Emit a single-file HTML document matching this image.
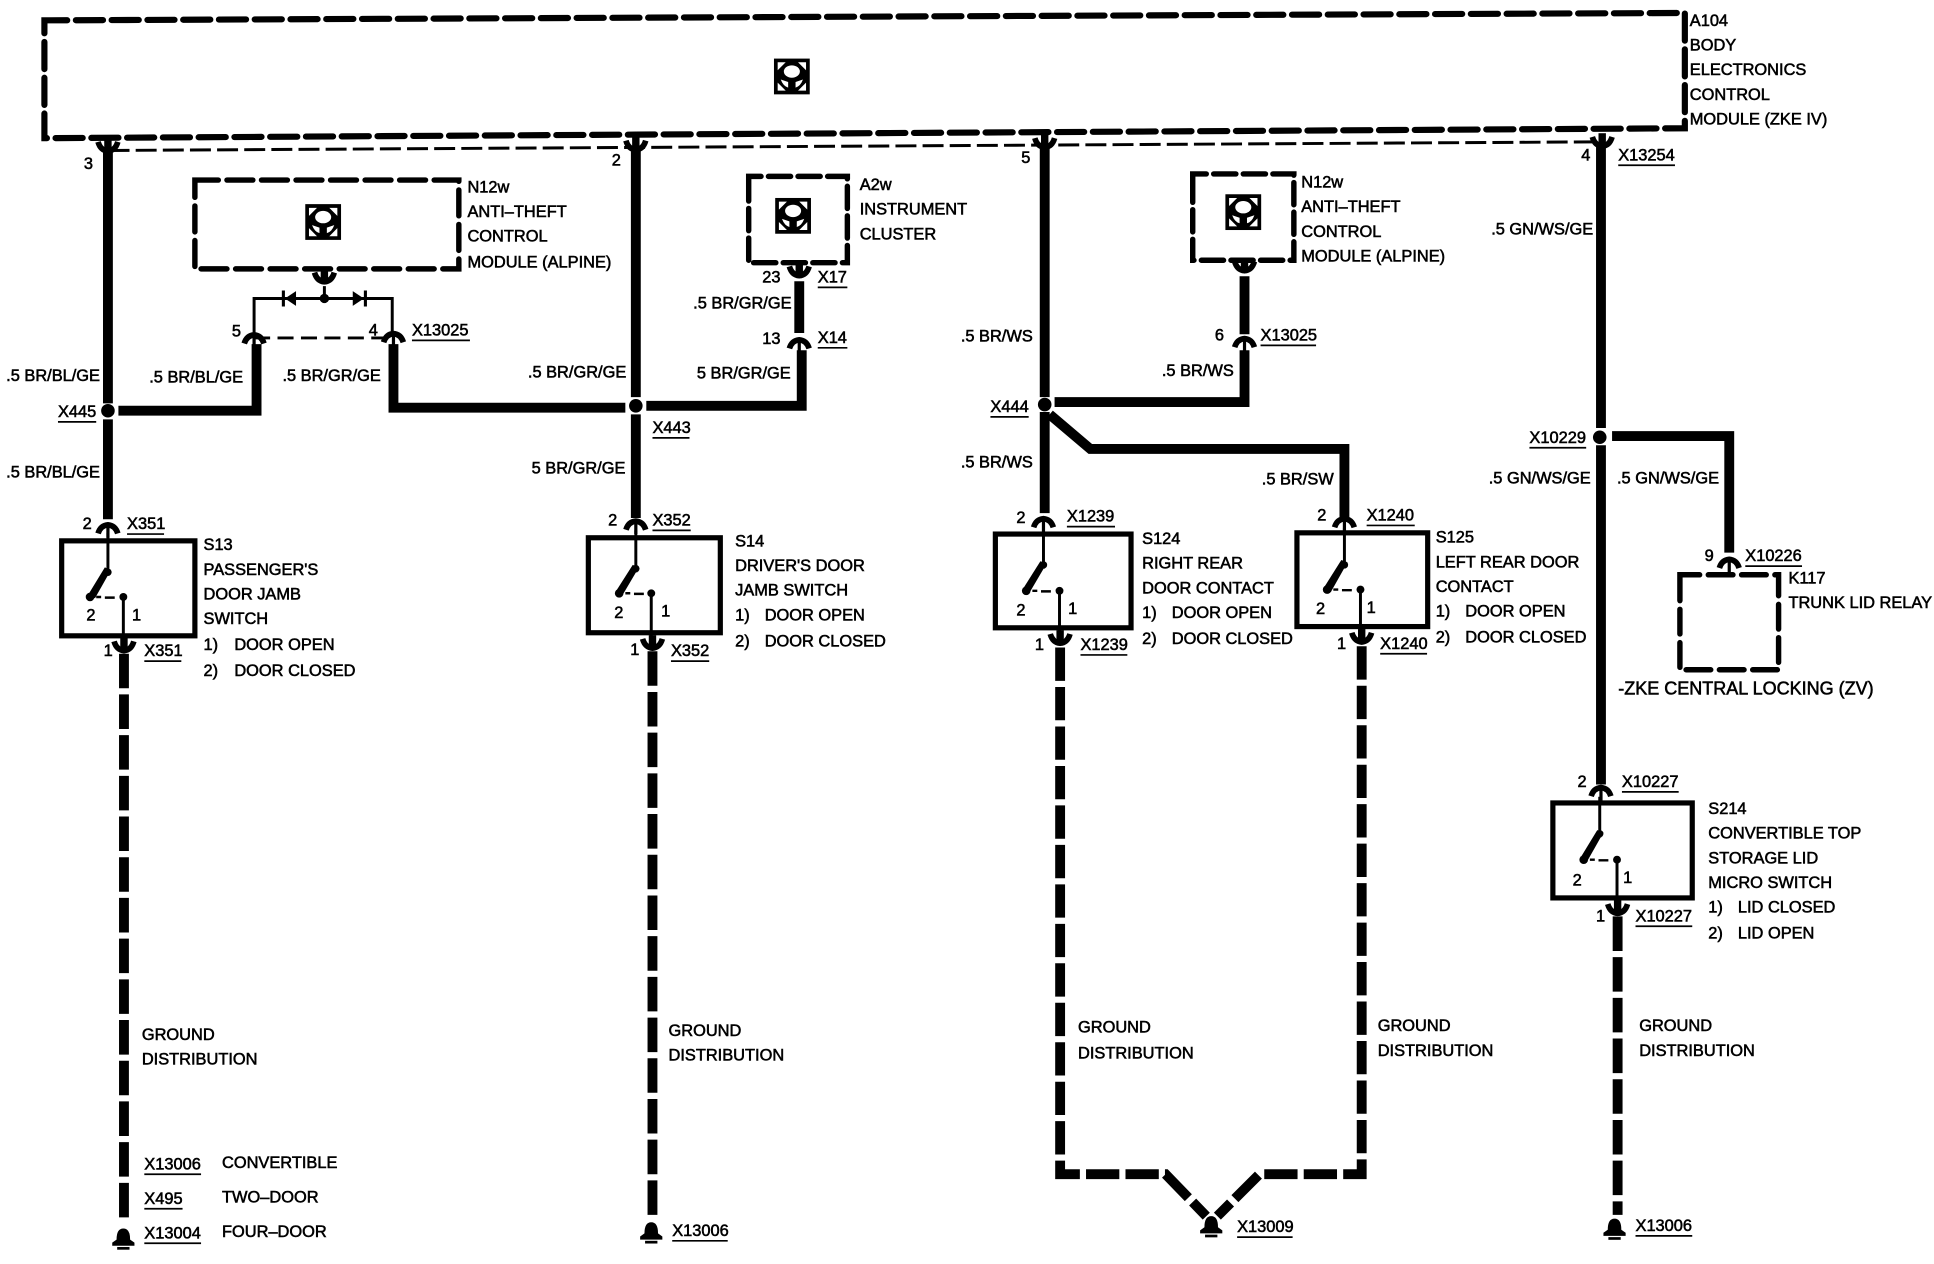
<!DOCTYPE html>
<html><head><meta charset="utf-8"><style>
html,body{margin:0;padding:0;background:#fff}
svg{display:block}
text{font-family:"Liberation Sans",sans-serif;font-size:13.3px;fill:#000;stroke:#000;stroke-width:.45}
.w{fill:none;stroke:#000;stroke-width:8;stroke-linejoin:miter}
.d{fill:none;stroke:#000;stroke-width:8;stroke-dasharray:28 5}
.b{fill:none;stroke:#000;stroke-width:4.4;stroke-dasharray:21 7;stroke-linecap:round}
.t{fill:none;stroke:#000;stroke-width:2.4}
.u{fill:none;stroke:#000;stroke-width:1.4}
.s{fill:none;stroke:#000;stroke-width:4.2}
</style></head><body>
<svg xmlns="http://www.w3.org/2000/svg" width="1934" height="1264" viewBox="0 0 1568 1024.8">
<defs>
<g id="ic"><rect x="-14.500" y="-14.500" width="29" height="29" fill="#000"/>
<path d="M-11.500-11.500h6.500l-6.500 6.500zM11.500-11.500h-6.500l6.500 6.500zM-11.500 11.500h6.500l-6.500-6.500zM11.500 11.500h-6.500l6.500-6.500z" fill="#fff"/>
<ellipse cx="0" cy="-4" rx="6.500" ry="5" fill="#fff"/>
<path d="M-9 2.500L-3 4.500L-3 9Q-7 8-9 2.500zM9 2.500L3 4.500L3 9Q7 8 9 2.500z" fill="#fff"/></g>
<g id="fu"><path d="M-8 4.500 Q-6-2 0-2.500 Q6-2 8 4.500" fill="none" stroke="#000" stroke-width="4.600"/><rect x="-1.300" y="-3" width="2.600" height="11"/></g>
<g id="fd"><path d="M-8-5 Q-6 2 0 2.500 Q6 2 8-5" fill="none" stroke="#000" stroke-width="4.600"/><rect x="-3" y="-8" width="6" height="12"/></g>
<g id="gd"><path d="M-5.500 2 Q-5.500-7 0-7 Q5.500-7 5.500 2 L9 4.500 L9 7 L-9 7 L-9 4.500Z"/><rect x="-5" y="8" width="10" height="2.200"/></g>
</defs>

<!-- A104 -->
<path class="b" d="M36 20 L36 16.500 L40 16.500 L1366 10.500 L1366 104 L40 112 L36 112 L36 20" style="stroke-width:5;stroke-dasharray:22 7"/>
<path class="t" d="M88 122 L1299 115" stroke-dasharray="17 5"/>
<use href="#ic" x="642" y="62"/>

<!-- main wires -->
<path class="w" d="M87.500 122V327M87.500 340V421"/>
<path class="w" d="M515.500 118V322M515.500 336V420"/>
<path class="w" d="M847 118V322M847 334V416"/>
<path class="w" d="M1298 118V347M1298 361V636"/>
<path class="w" d="M96 333H208V279"/>
<path class="w" d="M319 279V330.500H507"/>
<path class="w" d="M524 329H650V284"/>
<path class="w" d="M648 270V228"/>
<path class="w" d="M855 326H1009V284"/>
<path class="w" d="M1009 271V224"/>
<path class="w" d="M851 336 L884 364H1090V420"/>
<path class="w" d="M1307 353.500H1402V448"/>
<circle cx="87.500" cy="333" r="5.500"/><circle cx="515.500" cy="329" r="5.500"/><circle cx="847" cy="328" r="5.500"/><circle cx="1297" cy="354.500" r="5.500"/>

<!-- forks at top -->
<use href="#fd" x="87.500" y="120"/><use href="#fd" x="515.500" y="119"/><use href="#fd" x="847" y="117"/><use href="#fd" x="1299" y="116"/>

<!-- N12w left -->
<path class="b" d="M158 148V146H372V218H158V148"/>
<use href="#ic" x="262" y="180"/>
<use href="#fd" x="263" y="226"/>
<path class="t" d="M263 232V242M206 270V242H318V270"/>
<path d="M240 236V248L231 242ZM231 235.500V248.500H228.500V235.500Z M286 236V248L295 242ZM295 235.500V248.500H297.500V235.500Z"/>
<circle cx="263" cy="242" r="3.800"/>
<path class="t" d="M206 274H318" stroke-dasharray="13 6"/>
<use href="#fu" x="206" y="274"/><use href="#fu" x="319" y="273"/>

<!-- A2w -->
<path class="b" d="M607 151V143H687V213H607V151" style="stroke-dasharray:18 6"/>
<use href="#ic" x="643" y="175"/>
<use href="#fd" x="648" y="221"/>
<use href="#fu" x="648" y="278"/>

<!-- N12w right -->
<path class="b" d="M967 148V141H1049V211H967V148" style="stroke-dasharray:18 6"/>
<use href="#ic" x="1008" y="172"/>
<use href="#fd" x="1009" y="217"/>
<use href="#fu" x="1009" y="277"/>

<!-- Switch S13 -->
<g>
<rect class="s" x="50" y="438.500" width="108" height="77"/>
<use href="#fu" x="87.500" y="428"/>
<path class="t" d="M87.500 432V466"/>
<path d="M85 460L90 462L77 485L71 483Z"/><circle cx="87.500" cy="464" r="3"/><circle cx="73" cy="484" r="3.500"/>
<path d="M78 483h4v2h-4zM85 483.500h8v2h-8z"/>
<circle cx="100" cy="484" r="3.200"/><path class="t" d="M100 484V520"/>
<use href="#fd" x="100.500" y="525"/>
<path class="d" d="M100.500 530V992"/>
</g>

<!-- S14 -->
<g>
<rect class="s" x="477" y="436" width="107" height="77"/>
<use href="#fu" x="515.500" y="425"/>
<path class="t" d="M515.500 430V464"/>
<path d="M513 458L518 460L505 482L499 480Z"/><circle cx="515.500" cy="461" r="3"/><circle cx="502" cy="481" r="3.500"/>
<path d="M507 480h4v2h-4zM514 480.500h8v2h-8z"/>
<circle cx="528" cy="481" r="3.200"/><path class="t" d="M528 481V518"/>
<use href="#fd" x="529" y="523"/>
<path class="d" d="M529 528V986"/>
</g>

<!-- S124 -->
<g>
<rect class="s" x="807" y="433" width="110" height="76"/>
<use href="#fu" x="846" y="423"/>
<path class="t" d="M846 428V461"/>
<path d="M843.500 455L848.500 457L835 480L829 478Z"/><circle cx="846" cy="458" r="3"/><circle cx="832" cy="479" r="3.500"/>
<path d="M837 478h4v2h-4zM844 478.500h8v2h-8z"/>
<circle cx="859" cy="479" r="3.200"/><path class="t" d="M859 479V514"/>
<use href="#fd" x="859.500" y="519"/>
</g>

<!-- S125 -->
<g>
<rect class="s" x="1051.500" y="432" width="106" height="76"/>
<use href="#fu" x="1090" y="423"/>
<path class="t" d="M1090 428V460"/>
<path d="M1087.500 454L1092.500 456L1079 480L1073 477Z"/><circle cx="1090" cy="458" r="3"/><circle cx="1076" cy="478" r="3.500"/>
<path d="M1081 477h4v2h-4zM1088 477.500h8v2h-8z"/>
<circle cx="1103" cy="478" r="3.200"/><path class="t" d="M1103 478V514"/>
<use href="#fd" x="1104" y="518"/>
</g>

<!-- right ground pair -->
<path class="d" d="M859.500 525V952H945L978 986" style="stroke-dasharray:27 5"/>
<path class="d" d="M1104 524V952H1021L987 986" style="stroke-dasharray:27 5"/>
<use href="#gd" x="982" y="993"/>

<!-- K117 -->
<path class="b" d="M1362 470V466H1442V543H1362V470" style="stroke-dasharray:20 7"/>
<use href="#fu" x="1402" y="456"/>

<!-- S214 -->
<g>
<rect class="s" x="1259" y="651" width="113" height="77"/>
<use href="#fu" x="1298" y="641"/>
<path class="t" d="M1297 646V679"/>
<path d="M1295 673L1300 675L1287 698L1281 696Z"/><circle cx="1297" cy="676" r="3"/><circle cx="1284" cy="697" r="3.500"/>
<path d="M1289 696h4v2h-4zM1296 696.500h8v2h-8z"/>
<circle cx="1311" cy="697" r="3.200"/><path class="t" d="M1311 697V733"/>
<use href="#fd" x="1311.500" y="738"/>
<path class="d" d="M1311.500 743V985"/>
</g>

<use href="#gd" x="100" y="1003"/><use href="#gd" x="528" y="998"/><use href="#gd" x="1309" y="995"/>

<!-- TEXT -->
<text x="1370" y="21">A104</text><text x="1370" y="41">BODY</text><text x="1370" y="61">ELECTRONICS</text><text x="1370" y="81">CONTROL</text><text x="1370" y="101">MODULE (ZKE IV)</text>
<text x="68" y="137">3</text><text x="496" y="134">2</text><text x="828" y="132">5</text><text x="1282" y="130">4</text>
<text x="1312" y="130">X13254</text><path class="u" d="M1312 134H1358"/>

<text x="379" y="156">N12w</text><text x="379" y="176">ANTI–THEFT</text><text x="379" y="196">CONTROL</text><text x="379" y="217">MODULE (ALPINE)</text>
<text x="697" y="154">A2w</text><text x="697" y="174">INSTRUMENT</text><text x="697" y="194">CLUSTER</text>
<text x="618" y="229">23</text><text x="663" y="229">X17</text><path class="u" d="M663 233H687"/>
<text x="562" y="250">.5 BR/GR/GE</text>
<text x="618" y="279">13</text><text x="663" y="278">X14</text><path class="u" d="M663 282H687"/>
<text x="565" y="307">5 BR/GR/GE</text>
<text x="1055" y="152">N12w</text><text x="1055" y="172">ANTI–THEFT</text><text x="1055" y="192">CONTROL</text><text x="1055" y="212">MODULE (ALPINE)</text>
<text x="985" y="276">6</text><text x="1022" y="276">X13025</text><path class="u" d="M1022 280H1067"/>
<text x="942" y="305">.5 BR/WS</text>
<text x="188" y="273">5</text><text x="299" y="272">4</text><text x="334" y="272">X13025</text><path class="u" d="M334 276H381"/>
<text x="5" y="309">.5 BR/BL/GE</text><text x="121" y="310">.5 BR/BL/GE</text><text x="229" y="309">.5 BR/GR/GE</text><text x="428" y="306">.5 BR/GR/GE</text>
<text x="47" y="338">X445</text><path class="u" d="M47 342H78"/>
<text x="529" y="351">X443</text><path class="u" d="M529 355H559"/>
<text x="803" y="334">X444</text><path class="u" d="M803 338H834"/>
<text x="779" y="277">.5 BR/WS</text><text x="779" y="379">.5 BR/WS</text><text x="1023" y="393">.5 BR/SW</text>
<text x="5" y="387">.5 BR/BL/GE</text><text x="431" y="384">5 BR/GR/GE</text>

<text x="67" y="429">2</text><text x="103" y="429">X351</text><path class="u" d="M103 433H133"/>
<text x="493" y="426">2</text><text x="529" y="426">X352</text><path class="u" d="M529 430H560"/>
<text x="824" y="424">2</text><text x="865" y="423">X1239</text><path class="u" d="M865 427H904"/>
<text x="1068" y="422">2</text><text x="1108" y="422">X1240</text><path class="u" d="M1108 426H1147"/>

<text x="165" y="446">S13</text><text x="165" y="466">PASSENGER'S</text><text x="165" y="486">DOOR JAMB</text><text x="165" y="506">SWITCH</text><text x="165" y="527">1)</text><text x="190" y="527">DOOR OPEN</text><text x="165" y="548">2)</text><text x="190" y="548">DOOR CLOSED</text>
<text x="84" y="532">1</text><text x="117" y="532">X351</text><path class="u" d="M117 536H147"/>
<text x="70" y="503">2</text><text x="107" y="503">1</text>

<text x="596" y="443">S14</text><text x="596" y="463">DRIVER'S DOOR</text><text x="596" y="483">JAMB SWITCH</text><text x="596" y="503">1)</text><text x="620" y="503">DOOR OPEN</text><text x="596" y="524">2)</text><text x="620" y="524">DOOR CLOSED</text>
<text x="511" y="531">1</text><text x="544" y="532">X352</text><path class="u" d="M544 536H575"/>
<text x="498" y="501">2</text><text x="536" y="500">1</text>

<text x="926" y="441">S124</text><text x="926" y="461">RIGHT REAR</text><text x="926" y="481">DOOR CONTACT</text><text x="926" y="501">1)</text><text x="950" y="501">DOOR OPEN</text><text x="926" y="522">2)</text><text x="950" y="522">DOOR CLOSED</text>
<text x="839" y="527">1</text><text x="876" y="527">X1239</text><path class="u" d="M876 531H914"/>
<text x="824" y="499">2</text><text x="866" y="498">1</text>

<text x="1164" y="440">S125</text><text x="1164" y="460">LEFT REAR DOOR</text><text x="1164" y="480">CONTACT</text><text x="1164" y="500">1)</text><text x="1188" y="500">DOOR OPEN</text><text x="1164" y="521">2)</text><text x="1188" y="521">DOOR CLOSED</text>
<text x="1084" y="526">1</text><text x="1119" y="526">X1240</text><path class="u" d="M1119 530H1157"/>
<text x="1067" y="498">2</text><text x="1108" y="497">1</text>

<text x="1209" y="190">.5 GN/WS/GE</text><text x="1207" y="392">.5 GN/WS/GE</text><text x="1311" y="392">.5 GN/WS/GE</text>
<text x="1240" y="359">X10229</text><path class="u" d="M1240 363H1286"/>
<text x="1382" y="455">9</text><text x="1415" y="455">X10226</text><path class="u" d="M1415 459H1461"/>
<text x="1450" y="473">K117</text><text x="1450" y="493">TRUNK LID RELAY</text>
<text x="1312" y="563" style="font-size:14.6px">-ZKE CENTRAL LOCKING (ZV)</text>

<text x="1279" y="638">2</text><text x="1315" y="638">X10227</text><path class="u" d="M1315 642H1361"/>
<text x="1385" y="660">S214</text><text x="1385" y="680">CONVERTIBLE TOP</text><text x="1385" y="700">STORAGE LID</text><text x="1385" y="720">MICRO SWITCH</text><text x="1385" y="740">1)</text><text x="1409" y="740">LID CLOSED</text><text x="1385" y="761">2)</text><text x="1409" y="761">LID OPEN</text>
<text x="1294" y="747">1</text><text x="1326" y="747">X10227</text><path class="u" d="M1326 751H1372"/>
<text x="1275" y="718">2</text><text x="1316" y="716">1</text>

<text x="115" y="843">GROUND</text><text x="115" y="863">DISTRIBUTION</text>
<text x="542" y="840">GROUND</text><text x="542" y="860">DISTRIBUTION</text>
<text x="874" y="837">GROUND</text><text x="874" y="858">DISTRIBUTION</text>
<text x="1117" y="836">GROUND</text><text x="1117" y="856">DISTRIBUTION</text>
<text x="1329" y="836">GROUND</text><text x="1329" y="856">DISTRIBUTION</text>

<text x="117" y="948">X13006</text><path class="u" d="M117 952H163"/><text x="180" y="947">CONVERTIBLE</text>
<text x="117" y="976">X495</text><path class="u" d="M117 980H148"/><text x="180" y="975">TWO–DOOR</text>
<text x="117" y="1004">X13004</text><path class="u" d="M117 1008H163"/><text x="180" y="1003">FOUR–DOOR</text>
<text x="545" y="1002">X13006</text><path class="u" d="M545 1006H590"/>
<text x="1003" y="999">X13009</text><path class="u" d="M1003 1003H1048"/>
<text x="1326" y="998">X13006</text><path class="u" d="M1326 1002H1372"/>
</svg>
</body></html>
